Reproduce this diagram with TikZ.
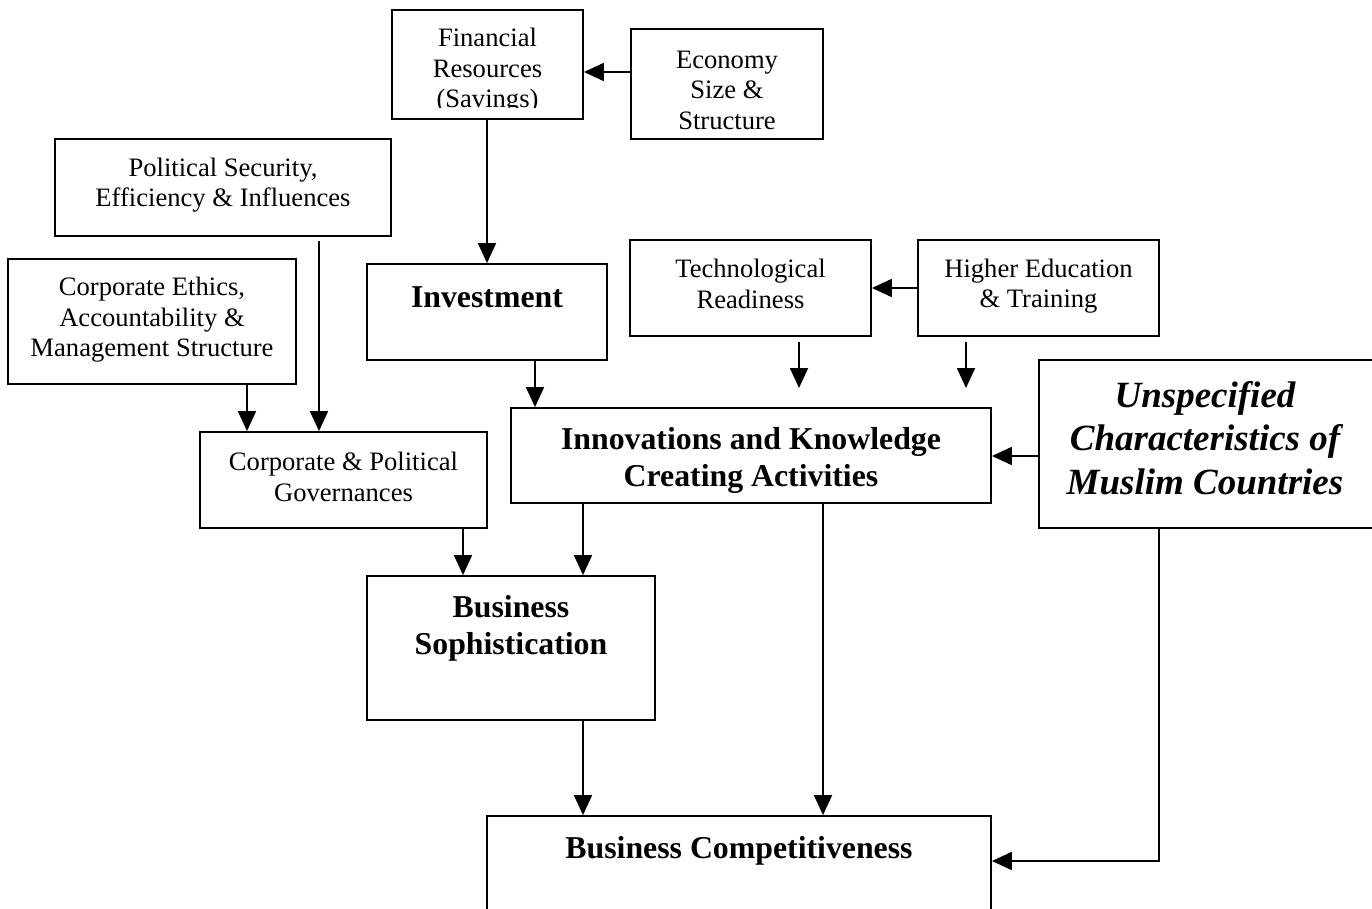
\documentclass[tikz,border=0pt]{standalone}
\usepackage{fontspec}
\setmainfont{Liberation Serif}
\usetikzlibrary{arrows.meta,calc}
\tikzset{
  box/.style={draw, line width=1.8pt, inner sep=0pt, fill=none},
  txt/.style={align=center, inner sep=0pt, font=\fontsize{26.6}{30.5}\selectfont},
  btxt/.style={align=center, inner sep=0pt, font=\bfseries\fontsize{31.8}{37}\selectfont},
  itxt/.style={align=center, inner sep=0pt, font=\bfseries\itshape\fontsize{37}{43.5}\selectfont},
  arr/.style={line width=1.8pt, -{Triangle[length=20pt,width=18pt]}},
}
\begin{document}
\begin{tikzpicture}[x=1pt,y=-1pt]
\useasboundingbox (0,0) rectangle (1372,909);
% boxes
\node[box, minimum width=191pt, minimum height=109pt] (fin) at (487.5,64.5) {};
\node[box, minimum width=192pt, minimum height=110pt] (eco) at (727,84) {};
\node[box, minimum width=336pt, minimum height=97pt] (pol) at (223,187.5) {};
\node[box, minimum width=288pt, minimum height=125pt] (eth) at (152,321.5) {};
\node[box, minimum width=240pt, minimum height=96pt] (inv) at (487,312) {};
\node[box, minimum width=241pt, minimum height=96pt] (tech) at (750.5,288) {};
\node[box, minimum width=241pt, minimum height=96pt] (hed) at (1038.5,288) {};
\node[box, minimum width=337pt, minimum height=168pt] (uns) at (1207.5,444) {};
\node[box, minimum width=480pt, minimum height=95pt] (inn) at (751,455.5) {};
\node[box, minimum width=287pt, minimum height=96pt] (gov) at (343.5,480) {};
\node[box, minimum width=288pt, minimum height=144pt] (soph) at (511,648) {};
\node[box, minimum width=504pt, minimum height=144pt] (comp) at (739,888) {};
% texts
\begin{scope}
\clip (392,10) rectangle (583,108);
\node[txt] (finT) at (487.5,71) {Financial\\Resources\\(Savings)};
\end{scope}
\node[txt] (ecoT) at (727,90) {Economy\\Size \&\\Structure};
\node[txt] (polT) at (223,185) {Political Security,\\Efficiency \& Influences};
\node[txt] (ethT) at (152,320) {Corporate Ethics,\\Accountability \&\\Management Structure};
\node[btxt] (invT) at (487,297) {Investment};
\node[txt] (techT) at (750.5,284) {Technological\\Readiness};
\node[txt] (hedT) at (1038.5,286) {Higher Education\\\& Training};
\node[itxt] (unsT) at (1205,438) {Unspecified\\Characteristics of\\Muslim Countries};
\node[btxt] (innT) at (751,460) {Innovations and Knowledge\\Creating Activities};
\node[txt] (govT) at (343.5,477) {Corporate \& Political\\Governances};
\node[btxt] (sophT) at (511,628) {Business\\Sophistication};
\node[btxt] (compT) at (739,851) {Business Competitiveness};
% connectors
\coordinate (ta) at (799,388);
\coordinate (ha) at (966,388);
\draw[arr] (eco.west |- 0,72) -- (fin.east |- 0,72);
\draw[arr] (fin.south -| 487,0) -- (inv.north -| 487,0);
\draw[arr] ([yshift=-4pt]pol.south -| 319,0) -- (gov.north -| 319,0);
\draw[arr] (eth.south -| 247,0) -- (gov.north -| 247,0);
\draw[arr] (inv.south -| 535,0) -- (inn.north -| 535,0);
\draw[arr] (hed.west) -- (tech.east);
\draw[arr] ([yshift=-5pt]tech.south -| ta) -- (ta);
\draw[arr] ([yshift=-5pt]hed.south -| ha) -- (ha);
\draw[arr] (uns.west |- 0,456) -- (inn.east |- 0,456);
\draw[arr] (gov.south -| 463,0) -- (soph.north -| 463,0);
\draw[arr] (inn.south -| 583,0) -- (soph.north -| 583,0);
\draw[arr] (soph.south -| 583,0) -- (comp.north -| 583,0);
\draw[arr] (inn.south -| 823,0) -- (comp.north -| 823,0);
\draw[arr] (uns.south -| 1159,0) |- (comp.east |- 0,861);
\end{tikzpicture}
\end{document}
